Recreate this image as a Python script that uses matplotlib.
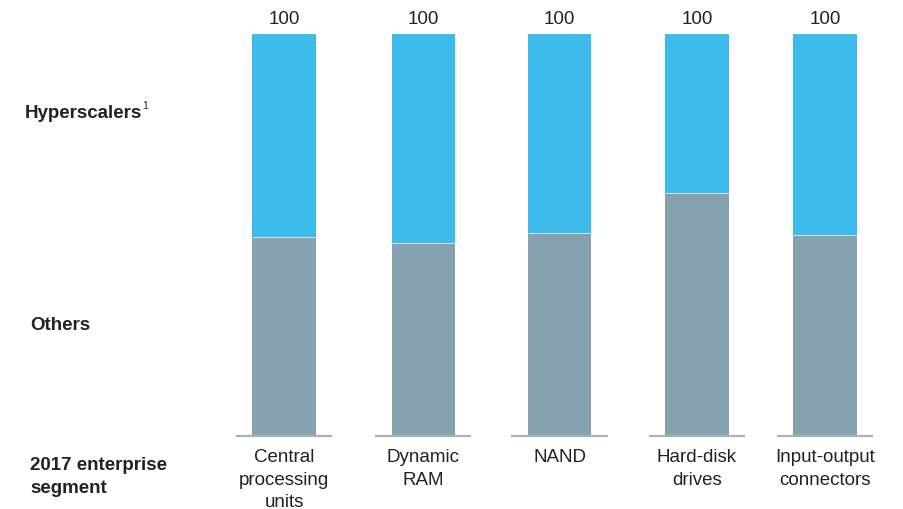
import matplotlib
matplotlib.use("Agg")
import matplotlib.pyplot as plt

# data (share of 2017 enterprise segment, %)
categories = [
    "Central\nprocessing\nunits",
    "Dynamic\nRAM",
    "NAND",
    "Hard-disk\ndrives",
    "Input-output\nconnectors",
]
others = [49.5, 48.0, 50.3, 60.3, 50.0]
hyperscalers = [100 - v for v in others]
totals = [100, 100, 100, 100, 100]

# layout (slot units, not data)
slot_x = [0.0, 1.031, 2.037, 3.054, 4.0]
bar_width = 0.47

BLUE = "#3dbbeb"
GRAY = "#86a2b0"
BASE = "#a3b3ba"
TEXT = "#222222"

plt.rcParams["font.family"] = ["Liberation Sans", "DejaVu Sans"]

W, H = 904, 510
fig = plt.figure(figsize=(W / 100, H / 100), dpi=100)
bottom_px, top_px = 436, 35
ax = fig.add_axes([0, 1 - bottom_px / H, 1, (bottom_px - top_px) / H])

ax.bar(slot_x, others, width=bar_width, color=GRAY, edgecolor="none")
ax.bar(slot_x, hyperscalers, bottom=others, width=bar_width, color=BLUE,
       edgecolor="none")

# thin light separator between the two segments
ax.hlines(others, [x - bar_width / 2 for x in slot_x],
          [x + bar_width / 2 for x in slot_x], color="#c9dde6", lw=0.8)

# base line under each bar
ext = 0.12
ax.hlines([-0.35] * len(slot_x), [x - bar_width / 2 - ext for x in slot_x],
          [x + bar_width / 2 + ext for x in slot_x], color=BASE, lw=1.6,
          clip_on=False)

for x, t in zip(slot_x, totals):
    ax.text(x, t + 1.8, f"{t}", ha="center", va="bottom", fontsize=13.5,
            color=TEXT)

for x, c in zip(slot_x, categories):
    ax.text(x, -3.3, c, ha="center", va="top", fontsize=13.5, color=TEXT,
            linespacing=1.42)

span = 135.25
ax.set_xlim(-284 / span, (W - 284) / span)
ax.set_ylim(0, 100)
ax.axis("off")

# row labels on the left
fig.text(25 / W, 1 - 113 / H, "Hyperscalers", ha="left", va="center",
         fontsize=13.5, fontweight="bold", color=TEXT)
fig.text(142 / W, 1 - 106 / H, "1", ha="left", va="center", fontsize=7.5,
         color=TEXT)
fig.text(30 / W, 1 - 326 / H, "Others", ha="left", va="center",
         fontsize=13.5, fontweight="bold", color=TEXT)
fig.text(30 / W, 1 - 477 / H, "2017 enterprise\nsegment", ha="left",
         va="center", fontsize=13.5, fontweight="bold", color=TEXT,
         linespacing=1.4)

fig.savefig("out.png", dpi=100, facecolor="white")
